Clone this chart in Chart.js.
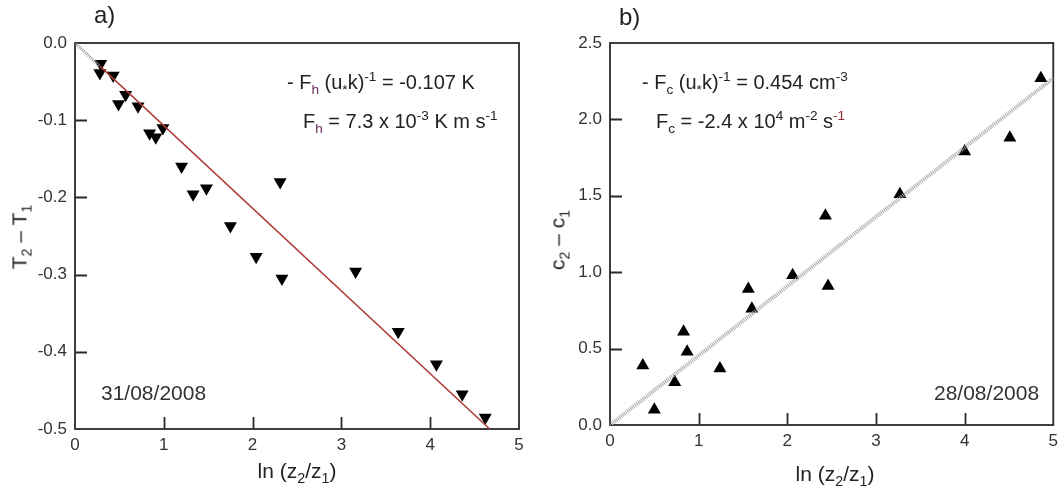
<!DOCTYPE html>
<html>
<head>
<meta charset="utf-8">
<script src="https://cdn.jsdelivr.net/npm/chart.js@4.4.1/dist/chart.umd.min.js"></script>
<style>
  html, body { margin:0; padding:0; background:#fff; }
  #wrap { position:relative; width:1064px; height:488px; font-family:'Liberation Sans', Arial, sans-serif; color:#222; }
  .cv { position:absolute; top:0; width:532px; height:488px; }
  .t { position:absolute; white-space:nowrap; line-height:1; transform:translateY(-50%); }
  .t sub, .t sup { font-size:68%; line-height:0; }
  .eq { font-size:20px; }
  .date { font-size:21px; color:#333; }
  .lbl { font-size:24px; }
  .ax { font-size:21px; transform:translate(-50%,-50%); }
  .ay { font-size:21px; transform:translate(-50%,-50%) rotate(-90deg); }
  .hs { color:#6a2c5c; }
  .rs { color:#8a2c2c; }
</style>
</head>
<body>
<div id="wrap">
  <div class="cv" style="left:0"><canvas id="panelA"></canvas></div>
  <div class="cv" style="left:532px"><canvas id="panelB"></canvas></div>

  <div class="t lbl" style="left:94px;top:15px">a)</div>
  <div class="t lbl" style="left:619px;top:17px">b)</div>

  <div class="t eq" style="left:287px;top:82px">- F<sub class="hs">h</sub> (u<sub>*</sub>k)<sup>-1</sup> = -0.107 K</div>
  <div class="t eq" style="left:303px;top:121px">F<sub class="hs">h</sub> = 7.3 x 10<sup>-3</sup> K m s<sup>-1</sup></div>
  <div class="t eq" style="left:642px;top:82px">- F<sub>c</sub> (u<sub>*</sub>k)<sup>-1</sup> = 0.454 cm<sup>-3</sup></div>
  <div class="t eq" style="left:656px;top:121px">F<sub>c</sub> = -2.4 x 10<sup>4</sup> m<sup>-2</sup> s<sup class="rs">-1</sup></div>

  <div class="t date" style="left:101px;top:392px">31/08/2008</div>
  <div class="t date" style="left:934px;top:392px">28/08/2008</div>

  <div class="t ax" style="left:297px;top:470px">ln (z<sub>2</sub>/z<sub>1</sub>)</div>
  <div class="t ax" style="left:835px;top:473px">ln (z<sub>2</sub>/z<sub>1</sub>)</div>
  <div class="t ay" style="left:19px;top:237px">T<sub>2</sub> &ndash; T<sub>1</sub></div>
  <div class="t ay" style="left:557px;top:240px">c<sub>2</sub> &ndash; c<sub>1</sub></div>
</div>

<script>
// a) temperature difference vs ln(z2/z1), 31/08/2008
const lnzA = [0.29, 0.28, 0.43, 0.49, 0.57, 0.71, 0.84, 0.91, 0.99, 1.20, 1.33, 1.48, 1.75, 2.04, 2.31, 2.33, 3.16, 3.64, 4.07, 4.36, 4.62];
const dT   = [-0.027, -0.039, -0.042, -0.079, -0.067, -0.082, -0.117, -0.122, -0.110, -0.160, -0.196, -0.188, -0.237, -0.277, -0.180, -0.305, -0.296, -0.374, -0.416, -0.455, -0.485];
// fit, slope -0.107: dotted stub near the origin then the solid part
const fitDotAx = [0, 0.28], fitDotAy = [0, -0.030];
const fitAx = [0.28, 4.67], fitAy = [-0.030, -0.500];

// b) concentration difference vs ln(z2/z1), 28/08/2008
const lnzB = [0.37, 0.50, 0.73, 0.83, 0.87, 1.24, 1.56, 1.60, 2.06, 2.43, 2.46, 3.27, 4.00, 4.51, 4.86];
const dC   = [0.39, 0.10, 0.28, 0.61, 0.48, 0.37, 0.89, 0.76, 0.98, 1.37, 0.91, 1.51, 1.79, 1.88, 2.27];
// fit, slope 0.454
const fitBx = [0, 5], fitBy = [0, 2.27];

const xTicks  = [0, 1, 2, 3, 4, 5];
const yTicksA = [-0.5, -0.4, -0.3, -0.2, -0.1, 0];
const yTicksB = [0, 0.5, 1.0, 1.5, 2.0, 2.5];

const pts = (xs, ys) => xs.map((x, i) => ({ x, y: ys[i] }));
const fnt = { family:"'Liberation Sans', Arial, sans-serif", size:17 };

// box round the plot plus short inward tick marks
const frame = {
  id:'frame',
  beforeDatasetsDraw(chart) {
    const { ctx, chartArea:a, scales:{ x, y } } = chart;
    ctx.save();
    ctx.strokeStyle = '#2a2a2a'; ctx.lineWidth = 1.8;
    ctx.strokeRect(a.left, a.top, a.right - a.left, a.bottom - a.top);
    ctx.beginPath();
    x.ticks.forEach(t => {
      if (t.value <= x.min || t.value >= x.max) return;
      const px = Math.round(x.getPixelForValue(t.value)) + 0.5;
      ctx.moveTo(px, a.bottom); ctx.lineTo(px, a.bottom - 12);
    });
    y.ticks.forEach(t => {
      if (t.value <= y.min || t.value >= y.max) return;
      const py = Math.round(y.getPixelForValue(t.value)) + 0.5;
      ctx.moveTo(a.left, py); ctx.lineTo(a.left + 12, py);
    });
    ctx.stroke();
    ctx.restore();
  }
};

function panel(id, cfg) {
  return new Chart(document.getElementById(id), {
    type:'scatter',
    data:{ datasets: cfg.datasets },
    options:{
      responsive:true, maintainAspectRatio:false, animation:false,
      layout:{ padding:{ top:43, right:cfg.padRight, left:0, bottom:0 } },
      plugins:{ legend:{ display:false }, tooltip:{ enabled:false } },
      scales:{
        x:{ type:'linear', min:0, max:5,
            afterBuildTicks: s => { s.ticks = xTicks.map(v => ({ value:v })); },
            afterFit: s => { s.height = cfg.xh; },
            ticks:{ color:'#333', font:fnt, padding:6, callback: v => String(v) },
            grid:{ display:false, drawTicks:false }, border:{ display:false } },
        y:{ type:'linear', min:cfg.ymin, max:cfg.ymax,
            afterBuildTicks: s => { s.ticks = cfg.yTicks.map(v => ({ value:v })); },
            afterFit: s => { s.width = cfg.yw; },
            ticks:{ color:'#333', font:fnt, padding:8, callback: v => Number(v).toFixed(1) },
            grid:{ display:false, drawTicks:false }, border:{ display:false } }
      }
    },
    plugins:[frame]
  });
}

panel('panelA', {
  padRight:13, xh:59, yw:75, ymin:-0.5, ymax:0, yTicks:yTicksA,
  datasets:[
    { data:pts(fitAx, fitAy), showLine:true, borderColor:'#b03a3a', borderWidth:1.5, pointRadius:0 },
    { data:pts(fitDotAx, fitDotAy), showLine:true, borderColor:'#9a9a9a', borderWidth:3, borderDash:[1,1], pointRadius:0 },
    { data:pts(lnzA, dT), pointStyle:'triangle', rotation:180, pointRadius:7.5, backgroundColor:'#000', borderColor:'#000', borderWidth:0 }
  ]
});

panel('panelB', {
  padRight:3, xh:63, yw:78, ymin:0, ymax:2.5, yTicks:yTicksB,
  datasets:[
    { data:pts(fitBx, fitBy), showLine:true, borderColor:'#a6a6a6', borderWidth:4, borderDash:[1,1], pointRadius:0 },
    { data:pts(lnzB, dC), pointStyle:'triangle', pointRadius:7.5, backgroundColor:'#000', borderColor:'#000', borderWidth:0 }
  ]
});
</script>
</body>
</html>
